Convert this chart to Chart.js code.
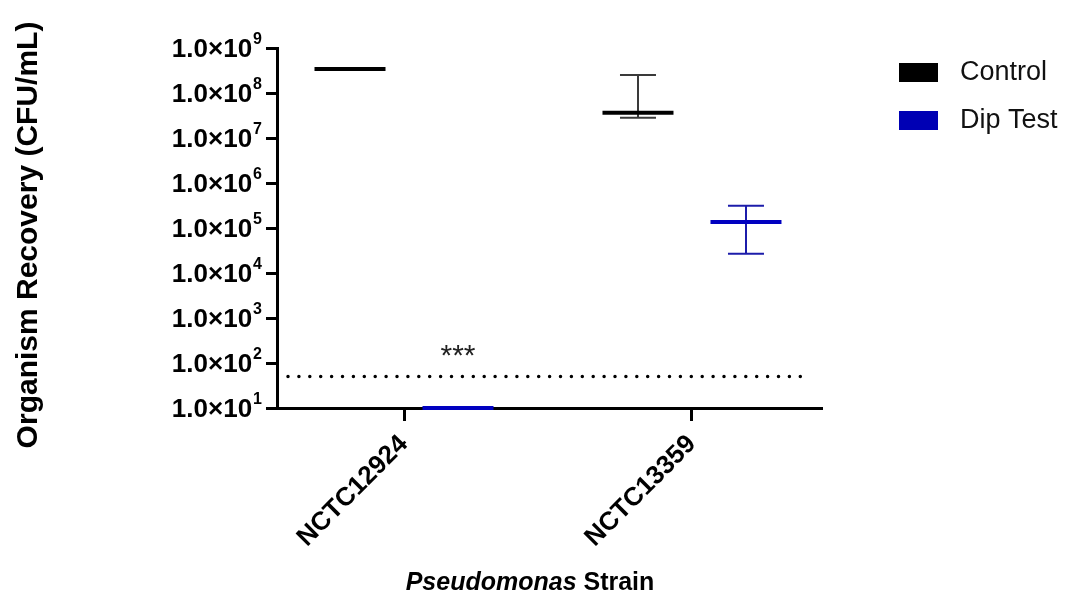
<!DOCTYPE html>
<html>
<head>
<meta charset="utf-8">
<script src="https://cdn.jsdelivr.net/npm/chart.js@4.4.1/dist/chart.umd.min.js"></script>
<style>
  html, body { margin: 0; padding: 0; background: #fff; }
  canvas { display: block; }
</style>
</head>
<body>
<canvas id="c" width="1069" height="593"></canvas>
<script>
// ---- data ----
const categories = ['NCTC12924', 'NCTC13359'];
const seriesNames = ['Control', 'Dip Test'];
const controlMean = [3.4e8, 3.65e7];
const controlLow  = [null, 2.83e7];
const controlHigh = [null, 2.5e8];
const dipMean = [10, 1.36e5];
const dipLow  = [null, 2.68e4];
const dipHigh = [null, 3.13e5];
const detectionLimit = 50;
const significance = ['***', ''];
const yTickValues = [1e1, 1e2, 1e3, 1e4, 1e5, 1e6, 1e7, 1e8, 1e9];
const yTickBase = ['1.0×10', '1.0×10', '1.0×10', '1.0×10', '1.0×10', '1.0×10', '1.0×10', '1.0×10', '1.0×10'];
const yTickExp  = ['1', '2', '3', '4', '5', '6', '7', '8', '9'];
const yTitle = 'Organism Recovery (CFU/mL)';
const xTitleItalic = 'Pseudomonas';
const xTitleRest = ' Strain';

// ---- styling ----
const FONT = "'Liberation Sans', Arial, Helvetica, sans-serif";
const colors = ['#000000', '#0000c0'];
const errColors = ['#3a3a3a', '#1c1caa'];
const legendColors = ['#000000', '#0000b4'];
const groupOffset = 0.1875;

function meanPoints(means, side) {
  return means.map((v, i) => ({ x: i + side * groupOffset, y: v }));
}
function errPoints(lows, highs, side) {
  const pts = [];
  lows.forEach((lo, i) => {
    if (lo == null || highs[i] == null) return;
    const x = i + side * groupOffset;
    pts.push({ x: x, y: lo }, { x: x, y: highs[i] }, { x: x, y: null });
  });
  return pts;
}

const datasets = [
  {
    label: seriesNames[0], data: meanPoints(controlMean, -1), showLine: false,
    pointStyle: 'line', pointRadius: 35.5, pointBorderWidth: 4,
    pointBorderColor: colors[0], borderColor: colors[0], clip: false
  },
  {
    label: seriesNames[0] + ' SD', data: errPoints(controlLow, controlHigh, -1), showLine: true, spanGaps: false,
    borderColor: errColors[0], borderWidth: 2,
    pointStyle: 'line', pointRadius: 18, pointBorderWidth: 2, pointBorderColor: errColors[0], clip: false
  },
  {
    label: seriesNames[1], data: meanPoints(dipMean, 1), showLine: false,
    pointStyle: 'line', pointRadius: 35.5, pointBorderWidth: 4,
    pointBorderColor: colors[1], borderColor: colors[1], clip: false
  },
  {
    label: seriesNames[1] + ' SD', data: errPoints(dipLow, dipHigh, 1), showLine: true, spanGaps: false,
    borderColor: errColors[1], borderWidth: 2,
    pointStyle: 'line', pointRadius: 18, pointBorderWidth: 2, pointBorderColor: errColors[1], clip: false
  }
];

const extrasPlugin = {
  id: 'extras',
  afterDatasetsDraw(chart) {
    const ctx = chart.ctx;
    const xs = chart.scales.x, ys = chart.scales.y, ca = chart.chartArea;
    // detection limit dotted line
    const yl = ys.getPixelForValue(detectionLimit);
    ctx.save();
    ctx.strokeStyle = '#000';
    ctx.lineWidth = 3.5;
    ctx.lineCap = 'round';
    ctx.setLineDash([0, 10.9]);
    ctx.beginPath();
    ctx.moveTo(ca.left + 11, yl);
    ctx.lineTo(ca.right - 11, yl);
    ctx.stroke();
    ctx.restore();
    // significance marks
    ctx.save();
    ctx.fillStyle = '#222';
    ctx.font = '30px ' + FONT;
    ctx.textAlign = 'center';
    ctx.textBaseline = 'alphabetic';
    significance.forEach((s, i) => {
      if (!s) return;
      ctx.fillText(s, xs.getPixelForValue(i + groupOffset), yl - 12);
    });
    ctx.restore();
  },
  afterDraw(chart) {
    const ctx = chart.ctx;
    const ys = chart.scales.y;
    // y tick labels with superscript exponents
    ctx.save();
    ctx.fillStyle = '#000';
    ctx.textBaseline = 'alphabetic';
    ctx.textAlign = 'left';
    const right = ys.right - 15;
    yTickValues.forEach((v, i) => {
      const y = ys.getPixelForValue(v);
      ctx.font = 'bold 16px ' + FONT;
      const we = ctx.measureText(yTickExp[i]).width;
      ctx.font = 'bold 26px ' + FONT;
      const wb = ctx.measureText(yTickBase[i]).width;
      const x0 = right - we - wb - 1;
      ctx.fillText(yTickBase[i], x0, y + 9);
      ctx.font = 'bold 16px ' + FONT;
      ctx.fillText(yTickExp[i], x0 + wb + 1, y - 4);
    });
    ctx.restore();
    // y title
    ctx.save();
    ctx.translate(37, 235);
    ctx.rotate(-Math.PI / 2);
    ctx.fillStyle = '#000';
    ctx.font = 'bold 30px ' + FONT;
    ctx.textAlign = 'center';
    ctx.textBaseline = 'alphabetic';
    ctx.fillText(yTitle, 0, 0);
    ctx.restore();
    // x title
    ctx.save();
    ctx.fillStyle = '#000';
    ctx.textBaseline = 'alphabetic';
    ctx.font = 'italic bold 25px ' + FONT;
    const w1 = ctx.measureText(xTitleItalic).width;
    ctx.font = 'bold 25px ' + FONT;
    const w2 = ctx.measureText(xTitleRest).width;
    const x0 = 530 - (w1 + w2) / 2;
    ctx.font = 'italic bold 25px ' + FONT;
    ctx.fillText(xTitleItalic, x0, 590);
    ctx.font = 'bold 25px ' + FONT;
    ctx.fillText(xTitleRest, x0 + w1, 590);
    ctx.restore();
    // legend
    ctx.save();
    ctx.font = '27px ' + FONT;
    ctx.textBaseline = 'middle';
    seriesNames.forEach((name, i) => {
      const yTop = 63 + i * 48;
      ctx.fillStyle = legendColors[i];
      ctx.fillRect(899, yTop, 39, 19);
      ctx.fillStyle = '#111';
      ctx.fillText(name, 960, yTop + 10);
    });
    ctx.restore();
  }
};

new Chart(document.getElementById('c'), {
  type: 'scatter',
  data: { datasets },
  options: {
    responsive: false,
    devicePixelRatio: 1,
    animation: false,
    events: [],
    layout: { padding: { left: 0, right: 248, top: 48, bottom: 0 } },
    plugins: { legend: { display: false }, tooltip: { enabled: false } },
    scales: {
      x: {
        type: 'linear',
        min: -0.441, max: 1.448,
        afterBuildTicks(s) { s.ticks = categories.map((c, i) => ({ value: i })); },
        afterFit(s) { s.height = 185; },
        ticks: {
          autoSkip: false, minRotation: 45, maxRotation: 45, padding: 8,
          color: '#000', font: { family: FONT, size: 26, weight: 'bold' },
          callback: (v) => categories[Math.round(v)] ?? ''
        },
        grid: { drawOnChartArea: false, drawTicks: true, tickLength: 13, color: '#000', lineWidth: 3 },
        border: { display: true, color: '#000', width: 3 }
      },
      y: {
        type: 'logarithmic',
        min: 10, max: 1e9,
        afterBuildTicks(s) { s.ticks = yTickValues.map(v => ({ value: v })); },
        afterFit(s) { s.width = 277; },
        ticks: { display: false },
        grid: { drawOnChartArea: false, drawTicks: true, tickLength: 11, color: '#000', lineWidth: 3 },
        border: { display: true, color: '#000', width: 3 }
      }
    }
  },
  plugins: [extrasPlugin]
});
</script>
</body>
</html>
